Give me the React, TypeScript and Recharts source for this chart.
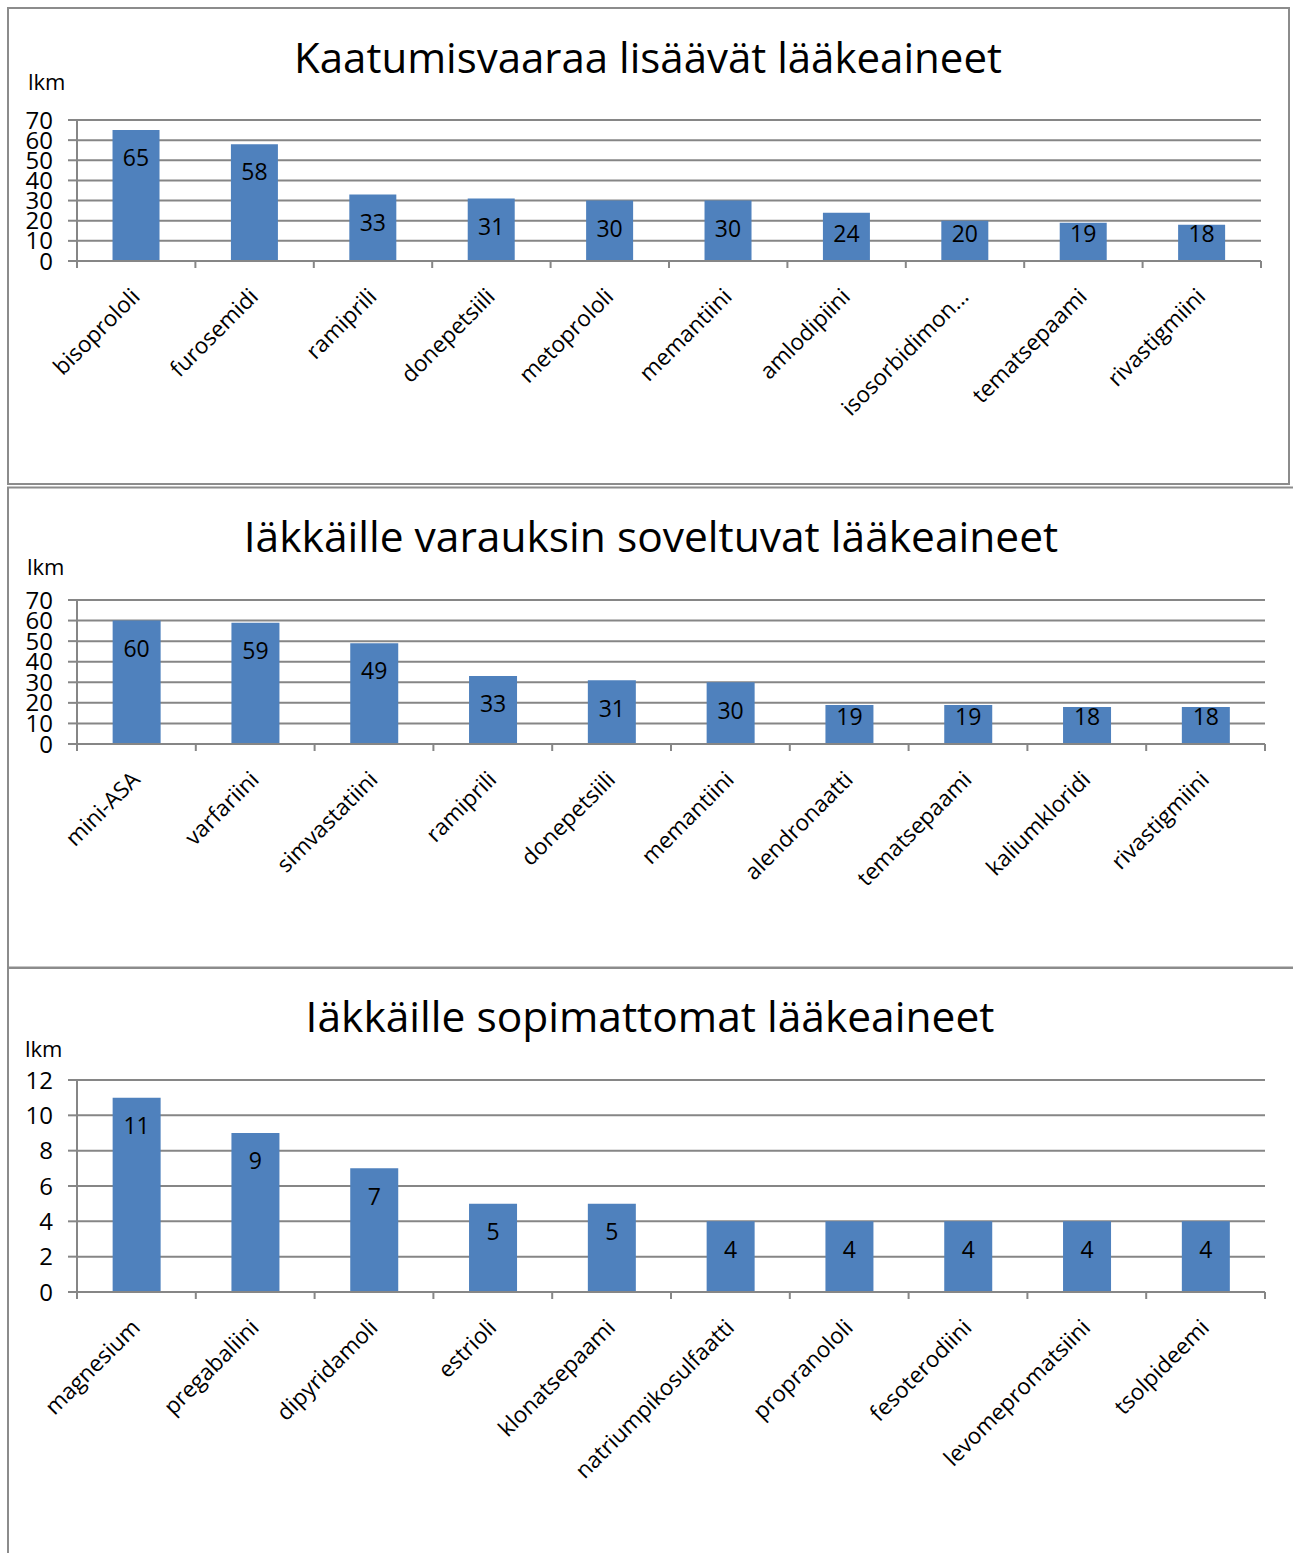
import React from "react";
import { BarChart, Bar, XAxis, YAxis, CartesianGrid, LabelList } from "recharts";

// lääkeaineet, joiden käyttö lisää kaatumisvaaraa
const fallCategories = [
  "bisoprololi",
  "furosemidi",
  "ramiprili",
  "donepetsiili",
  "metoprololi",
  "memantiini",
  "amlodipiini",
  "isosorbidimon...",
  "tematsepaami",
  "rivastigmiini",
];
const fallValues = [65, 58, 33, 31, 30, 30, 24, 20, 19, 18];

// iäkkäille varauksin soveltuvat
const cautionCategories = [
  "mini-ASA",
  "varfariini",
  "simvastatiini",
  "ramiprili",
  "donepetsiili",
  "memantiini",
  "alendronaatti",
  "tematsepaami",
  "kaliumkloridi",
  "rivastigmiini",
];
const cautionValues = [60, 59, 49, 33, 31, 30, 19, 19, 18, 18];

// iäkkäille sopimattomat
const unsuitableCategories = [
  "magnesium",
  "pregabaliini",
  "dipyridamoli",
  "estrioli",
  "klonatsepaami",
  "natriumpikosulfaatti",
  "propranololi",
  "fesoterodiini",
  "levomepromatsiini",
  "tsolpideemi",
];
const unsuitableValues = [11, 9, 7, 5, 5, 4, 4, 4, 4, 4];

const ticks70 = [0, 10, 20, 30, 40, 50, 60, 70];
const ticks12 = [0, 2, 4, 6, 8, 10, 12];

const FONT = "'Open Sans', 'Noto Sans', sans-serif";
const GREY = "#868686";
const BORDER = "#8c8c8c";
const BLUE = "#4f81bd";
const PAGE_W = 1293;
const AXIS_W = 77;

function CategoryTick(props: any) {
  const { x, y, payload, index, band, count } = props;
  const left = x - band / 2;
  const right = x + band / 2;
  const lx = x + 5;
  const ly = y + 37;
  return (
    <g>
      <line x1={left} x2={left} y1={y} y2={y + 7} stroke={GREY} strokeWidth={2} />
      {index === count - 1 && (
        <line x1={right} x2={right} y1={y} y2={y + 7} stroke={GREY} strokeWidth={2} />
      )}
      <text
        x={lx}
        y={ly}
        textAnchor="end"
        transform={`rotate(-45, ${lx}, ${ly})`}
        fontSize={22.5}
        fontFamily={FONT}
        fill="#000"
      >
        {payload.value}
      </text>
    </g>
  );
}

// arvo palkin yläpäähän, mutta ei liian lähelle akselia
function ValueLabel(props: any) {
  const { x, y, width, height, value } = props;
  const cy = Math.min(y + 28, y + height - 27);
  return (
    <text
      x={x + width / 2}
      y={cy}
      dy="0.36em"
      textAnchor="middle"
      fontSize={23}
      fontFamily={FONT}
      fill="#000"
    >
      {value}
    </text>
  );
}

interface PanelChartProps {
  categories: string[];
  values: number[];
  ticks: number[];
  plotTop: number;
  plotHeight: number;
  plotRight: number;
  labelSpace: number;
}

function PanelChart({ categories, values, ticks, plotTop, plotHeight, plotRight, labelSpace }: PanelChartProps) {
  const data = categories.map((name, i) => ({ name, value: values[i] }));
  const rightMargin = PAGE_W - plotRight;
  const band = (plotRight - AXIS_W) / categories.length;
  const topMargin = 20;
  return (
    <div style={{ position: "absolute", left: 0, top: plotTop - topMargin }}>
      <BarChart
        width={PAGE_W}
        height={topMargin + plotHeight + labelSpace}
        data={data}
        margin={{ top: topMargin, right: rightMargin, left: 0, bottom: 0 }}
        barCategoryGap="30%"
      >
        <CartesianGrid vertical={false} stroke={GREY} strokeWidth={2} />
        <Bar dataKey="value" fill={BLUE} isAnimationActive={false}>
          <LabelList dataKey="value" content={<ValueLabel />} />
        </Bar>
        <XAxis
          dataKey="name"
          interval={0}
          height={labelSpace}
          tickSize={0}
          tickMargin={0}
          tickLine={false}
          axisLine={{ stroke: GREY, strokeWidth: 2 }}
          tick={(p: any) => <CategoryTick {...p} band={band} count={categories.length} />}
        />
        <YAxis
          width={AXIS_W}
          domain={[0, ticks[ticks.length - 1]]}
          ticks={ticks}
          interval={0}
          tickSize={9}
          tickMargin={15}
          axisLine={{ stroke: GREY, strokeWidth: 2 }}
          tickLine={{ stroke: GREY, strokeWidth: 2 }}
          tick={{ fill: "#000", fontSize: 24, fontFamily: FONT }}
        />
      </BarChart>
    </div>
  );
}

export default function App() {
  return (
    <div
      style={{
        position: "absolute",
        left: 0,
        top: 0,
        width: PAGE_W,
        height: 1553,
        overflow: "hidden",
        background: "#fff",
        fontFamily: FONT,
      }}
    >
      <svg
        width={PAGE_W}
        height={1553}
        style={{ position: "absolute", left: 0, top: 0 }}
        fontFamily={FONT}
      >
        <rect x={8} y={8} width={1281} height={476} fill="none" stroke={BORDER} strokeWidth={2} />
        <rect x={8} y={487.5} width={1300} height={480} fill="none" stroke={BORDER} strokeWidth={2} />
        <rect x={8} y={968} width={1300} height={600} fill="none" stroke={BORDER} strokeWidth={2} />

        <text x={648} y={73} textAnchor="middle" fontSize={42} fill="#000">
          Kaatumisvaaraa lisäävät lääkeaineet
        </text>
        <text x={651} y={552} textAnchor="middle" fontSize={42.5} fill="#000">
          Iäkkäille varauksin soveltuvat lääkeaineet
        </text>
        <text x={650} y={1032} textAnchor="middle" fontSize={42.5} fill="#000">
          Iäkkäille sopimattomat lääkeaineet
        </text>

        <text x={28} y={90} fontSize={22} fill="#000">lkm</text>
        <text x={27} y={575} fontSize={22} fill="#000">lkm</text>
        <text x={25} y={1057} fontSize={22} fill="#000">lkm</text>
      </svg>

      <PanelChart
        categories={fallCategories}
        values={fallValues}
        ticks={ticks70}
        plotTop={120}
        plotHeight={141}
        plotRight={1261}
        labelSpace={170}
      />
      <PanelChart
        categories={cautionCategories}
        values={cautionValues}
        ticks={ticks70}
        plotTop={600}
        plotHeight={144}
        plotRight={1265}
        labelSpace={180}
      />
      <PanelChart
        categories={unsuitableCategories}
        values={unsuitableValues}
        ticks={ticks12}
        plotTop={1080}
        plotHeight={212}
        plotRight={1265}
        labelSpace={240}
      />
    </div>
  );
}
